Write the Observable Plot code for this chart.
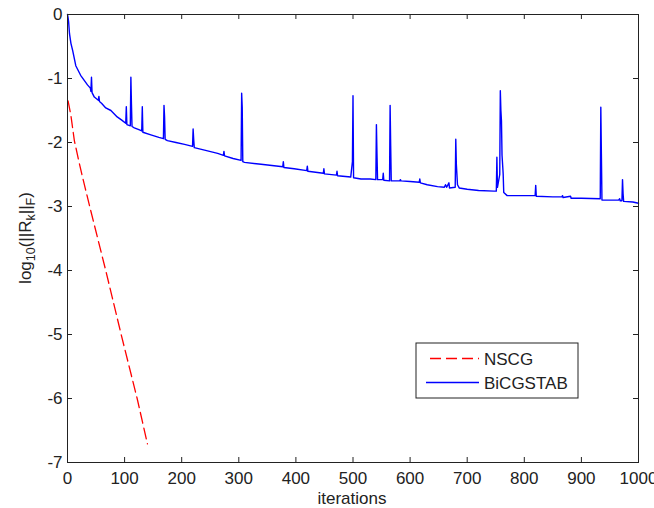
<!DOCTYPE html>
<html>
<head>
<meta charset="utf-8">
<script src="https://cdn.jsdelivr.net/npm/d3@7"></script>
<script src="https://cdn.jsdelivr.net/npm/@observablehq/plot@0.6"></script>
<style>
  html, body { margin: 0; padding: 0; background: #fff; }
  svg { display: block; }
</style>
</head>
<body>
<div id="chart"></div>
<script>
// ---- data ----
const xTicks = [0, 100, 200, 300, 400, 500, 600, 700, 800, 900, 1000];
const yTicks = [0, -1, -2, -3, -4, -5, -6, -7];

const seriesNames = ["NSCG", "BiCGSTAB"];

const nscgIter = [1, 6, 12, 20, 29, 40, 67, 94, 122, 140];
const nscgLog  = [-1.35, -1.58, -1.97, -2.30, -2.64, -3.04, -4.00, -5.00, -6.00, -6.71];

const bicgIter = [
  0, 1, 2, 3.5, 6, 9, 14.5, 23, 35, 40, 41, 42, 43, 47, 54, 55, 56, 60, 67, 76,
  87, 95, 102, 103, 104, 110, 111, 112, 113, 117, 125, 130, 131, 132, 146, 160, 168, 169, 170, 171,
  175, 190, 205, 219, 220, 221, 222, 240, 263, 273, 274, 275, 290, 304, 305, 306, 307, 310, 339, 377,
  378, 379, 397, 419, 420, 421, 448, 449, 450, 471, 472, 473, 496, 499, 500, 501, 514, 530, 540, 541,
  542, 543, 552, 553, 554, 564, 565, 566, 567, 582, 583, 584, 600, 616, 617, 618, 630, 648, 660, 662,
  664, 668, 669, 679, 680, 681, 683, 686, 700, 720, 747, 751, 752, 753, 757, 758, 759, 760, 761, 763,
  764, 770, 790, 819, 820, 821, 850, 866, 867, 868, 881, 882, 900, 933, 934, 935, 936, 950, 965, 967,
  968, 971, 972, 973, 974, 990, 1000
];
const bicgLog = [
  0, -0.05, -0.12, -0.30, -0.45, -0.56, -0.80, -0.95, -1.10, -1.15, -1.20, -0.98, -1.22, -1.29, -1.34, -1.28, -1.36, -1.39, -1.46, -1.50,
  -1.60, -1.65, -1.70, -1.44, -1.72, -1.74, -0.98, -1.40, -1.75, -1.77, -1.80, -1.82, -1.44, -1.84, -1.88, -1.92, -1.94, -1.42, -1.60, -1.95,
  -1.97, -2.00, -2.03, -2.06, -1.79, -1.95, -2.08, -2.12, -2.17, -2.20, -2.14, -2.21, -2.25, -2.28, -1.23, -1.45, -2.30, -2.31, -2.34, -2.38,
  -2.30, -2.39, -2.41, -2.44, -2.37, -2.45, -2.48, -2.41, -2.49, -2.51, -2.45, -2.52, -2.54, -2.30, -1.27, -2.55, -2.57, -2.57, -2.58, -1.72,
  -2.18, -2.58, -2.58, -2.48, -2.59, -2.60, -1.42, -2.05, -2.60, -2.60, -2.58, -2.60, -2.61, -2.62, -2.57, -2.63, -2.66, -2.69, -2.70, -2.66,
  -2.70, -2.63, -2.71, -2.70, -1.95, -2.34, -2.66, -2.71, -2.73, -2.75, -2.76, -2.76, -2.23, -2.70, -2.50, -1.19, -1.50, -1.66, -2.20, -2.49,
  -2.78, -2.83, -2.83, -2.83, -2.67, -2.84, -2.85, -2.85, -2.83, -2.86, -2.84, -2.87, -2.87, -2.88, -1.45, -2.18, -2.90, -2.90, -2.90, -2.88,
  -2.91, -2.91, -2.58, -2.80, -2.92, -2.93, -2.95
];

const xLabel = "iterations";

// ---- build tables ----
const nscg = nscgIter.map((x, i) => ({x, y: nscgLog[i]}));
const bicg = bicgIter.map((x, i) => ({x, y: bicgLog[i]}));

const FONT = "'Liberation Sans', Arial, Helvetica, sans-serif";
const FS = 17;
const INK = "#222";

const plot = Plot.plot({
  width: 654,
  height: 508,
  marginLeft: 67,
  marginRight: 16,
  marginTop: 14,
  marginBottom: 46,
  x: {domain: [0, 1000]},
  y: {domain: [-7, 0]},
  style: {fontFamily: FONT, fontSize: FS + "px", background: "#fff", color: INK},
  marks: [
    Plot.axisX(xTicks, {tickSize: 0, tickPadding: 9, label: null, fontSize: FS, tickFormat: d => String(d)}),
    Plot.axisY(yTicks, {tickSize: 0, tickPadding: 5, label: null, fontSize: FS, tickFormat: d => String(d)}),
    // inward ticks on all four sides (MATLAB style)
    Plot.ruleX(xTicks, {y1: -7, y2: -7 + 5 / 64, stroke: INK}),
    Plot.ruleX(xTicks, {y1: 0, y2: -5 / 64, stroke: INK}),
    Plot.ruleY(yTicks, {x1: 0, x2: 5 / 0.571, stroke: INK}),
    Plot.ruleY(yTicks, {x1: 1000, x2: 1000 - 5 / 0.571, stroke: INK}),
    Plot.line(bicg, {x: "x", y: "y", stroke: "#0000ff", strokeWidth: 1.4, curve: "linear"}),
    Plot.line(nscg, {x: "x", y: "y", stroke: "#ff0000", strokeWidth: 1.3, strokeDasharray: "11,5"}),
    Plot.frame({stroke: INK, strokeWidth: 1})
  ]
});

document.getElementById("chart").appendChild(plot);

const svg = d3.select(plot);

// x-axis label
svg.append("text")
  .attr("x", 352).attr("y", 504)
  .attr("text-anchor", "middle")
  .attr("font-family", FONT).attr("font-size", FS).attr("fill", INK)
  .text(xLabel);

// y-axis label with subscripts
const yl = svg.append("text")
  .attr("transform", "translate(30.5,238) rotate(-90)")
  .attr("text-anchor", "middle")
  .attr("font-family", FONT).attr("font-size", FS).attr("fill", INK);
const parts = [
  ["log", 0, FS], ["10", 4, 12.5], ["(||R", -4, FS], ["k", 4, 12.5], ["||", -4, FS], ["F", 4, 12.5], [")", -4, FS]
];
parts.forEach(([t, dy, fs]) => yl.append("tspan").attr("dy", dy).attr("font-size", fs).text(t));

// legend
const lg = svg.append("g").attr("font-family", FONT).attr("font-size", FS).attr("fill", INK)
  .attr("text-anchor", "start");
lg.append("rect").attr("x", 416).attr("y", 343).attr("width", 162).attr("height", 55)
  .attr("fill", "#fff").attr("stroke", INK).attr("stroke-width", 1);
lg.append("line").attr("x1", 430).attr("x2", 479).attr("y1", 358.5).attr("y2", 358.5)
  .attr("stroke", "#ff0000").attr("stroke-width", 1.3).attr("stroke-dasharray", "11,5");
lg.append("text").attr("x", 484).attr("y", 365).attr("text-anchor", "start").text(seriesNames[0]);
lg.append("line").attr("x1", 426).attr("x2", 479).attr("y1", 382.5).attr("y2", 382.5)
  .attr("stroke", "#0000ff").attr("stroke-width", 1.4);
lg.append("text").attr("x", 484).attr("y", 389).attr("text-anchor", "start").text(seriesNames[1]);
</script>
</body>
</html>
